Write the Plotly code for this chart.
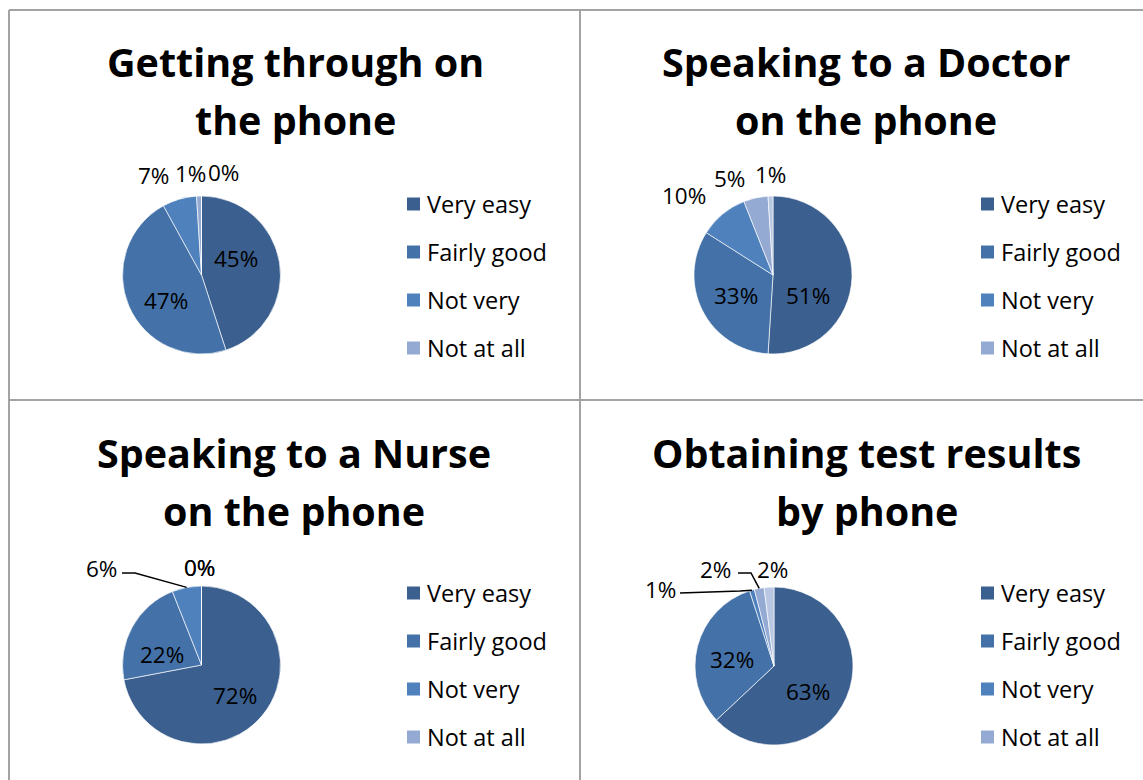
import math
import plotly.graph_objects as go

# ---------------- data ----------------
categories = ["Very easy", "Fairly good", "Not very", "Not at all", "No reply"]
legend_items = categories[:4]

titles = [
    ["Getting through on", "the phone"],
    ["Speaking to a Doctor", "on the phone"],
    ["Speaking to a Nurse", "on the phone"],
    ["Obtaining test results", "by phone"],
]
phone_through = [45, 47, 7, 1, 0]
doctor_phone = [51, 33, 10, 5, 1]
nurse_phone = [72, 22, 6, 0, 0]
test_results = [63, 32, 1, 2, 2]
series = [phone_through, doctor_phone, nurse_phone, test_results]

# ---------------- style / layout ----------------
W, H = 1143, 780
colors = ["#3b5f8e", "#4472a8", "#4f81bd", "#94aad3", "#b9c8e2"]
FONT = "Open Sans"
R = 79
panels = [  # pie center, legend x, legend first y, title x, title y lines
    dict(c=(201.5, 275), lx=407, ly=204, tx=295, ty=(62, 120)),
    dict(c=(773, 275), lx=981, ly=204, tx=866, ty=(62, 120)),
    dict(c=(201.5, 665), lx=407, ly=593, tx=294, ty=(453, 511)),
    dict(c=(774, 666), lx=981, ly=593, tx=867, ty=(453, 511)),
]
LEG_STEP = 48
SQ = 13
# data-label placement: panel, slice index, label center (px), leader path (px points before slice edge) or None
label_layout = [
    (0, 0, (236, 259), None), (0, 1, (166, 300), None),
    (0, 2, (153, 176), None), (0, 3, (190, 173), None), (0, 4, (223, 172), None),
    (1, 0, (808, 295), None), (1, 1, (736, 295), None),
    (1, 2, (684, 195), None), (1, 3, (729, 179), None), (1, 4, (770, 175), None),
    (2, 0, (235, 695), None), (2, 1, (162, 654), None),
    (2, 2, (101, 568), [(122, 573), (135, 573)]), (2, 3, (199, 567), None), (2, 4, (199, 567), None),
    (3, 0, (808, 691), None), (3, 1, (732, 659), None),
    (3, 2, (660, 589), [(680, 593), (740, 591)]), (3, 3, (715, 569), [(738, 573), (751, 573)]),
    (3, 4, (772, 569), None),
]


def px(x):
    return x / W


def py(y):
    return 1 - y / H


fig = go.Figure()
annotations = []
shapes = []

for i, (vals, p) in enumerate(zip(series, panels)):
    cx, cy = p["c"]
    fig.add_trace(go.Pie(
        labels=categories, values=vals, sort=False, direction="clockwise", rotation=0,
        marker=dict(colors=colors, line=dict(color="rgba(255,255,255,0.8)", width=0.8)),
        textinfo="none",
        domain=dict(x=[px(cx - R), px(cx + R)], y=[py(cy + R), py(cy - R)]),
        showlegend=False, hoverinfo="label+percent",
    ))
    # titles
    for line, ty in zip(titles[i], p["ty"]):
        annotations.append(dict(x=px(p["tx"]), y=py(ty), xref="paper", yref="paper",
                                text=f"<b>{line}</b>", showarrow=False, xanchor="center", yanchor="middle",
                                font=dict(family=FONT, size=39.5, color="black")))
    # legend
    for k, name in enumerate(legend_items):
        ly = p["ly"] + k * LEG_STEP
        shapes.append(dict(type="rect", xref="paper", yref="paper",
                           x0=px(p["lx"]), x1=px(p["lx"] + SQ), y0=py(ly + SQ / 2), y1=py(ly - SQ / 2),
                           fillcolor=colors[k], line=dict(width=0)))
        annotations.append(dict(x=px(p["lx"] + SQ + 5), y=py(ly), xref="paper", yref="paper",
                                text=name, showarrow=False, xanchor="left", yanchor="middle",
                                font=dict(family=FONT, size=23.5, color="black")))

# data labels and leader lines
for (pi, si, (lx, ly), path) in label_layout:
    vals = series[pi]
    tot = sum(vals)
    cx, cy = panels[pi]["c"]
    start = sum(vals[:si]) / tot
    mid = (start + vals[si] / tot / 2) * 2 * math.pi
    ex, ey = cx + R * math.sin(mid), cy - R * math.cos(mid)
    annotations.append(dict(x=px(lx), y=py(ly), xref="paper", yref="paper",
                            text=f"{round(100 * vals[si] / tot)}%", showarrow=False,
                            xanchor="center", yanchor="middle",
                            font=dict(family=FONT, size=22.5, color="black")))
    if path:
        pts = path + [(ex, ey)]
        d = "M " + " L ".join(f"{px(a)},{py(b)}" for a, b in pts)
        shapes.append(dict(type="path", xref="paper", yref="paper", path=d,
                           line=dict(color="black", width=1.5)))

# panel borders
border = dict(color="#a3a3a3", width=2)
shapes += [
    dict(type="line", xref="paper", yref="paper", x0=px(9), x1=1, y0=py(10), y1=py(10), line=border),
    dict(type="line", xref="paper", yref="paper", x0=px(9), x1=px(9), y0=py(10), y1=0, line=border),
    dict(type="line", xref="paper", yref="paper", x0=px(580), x1=px(580), y0=py(10), y1=0, line=border),
    dict(type="line", xref="paper", yref="paper", x0=px(9), x1=1, y0=py(400), y1=py(400), line=border),
]

fig.update_layout(
    width=W, height=H, margin=dict(l=0, r=0, t=0, b=0),
    paper_bgcolor="white", plot_bgcolor="white",
    annotations=annotations, shapes=shapes, showlegend=False,
)
fig.write_html("out.html", config={"displayModeBar": False},
               post_script="document.body.style.margin='0';document.body.style.overflow='hidden';")
